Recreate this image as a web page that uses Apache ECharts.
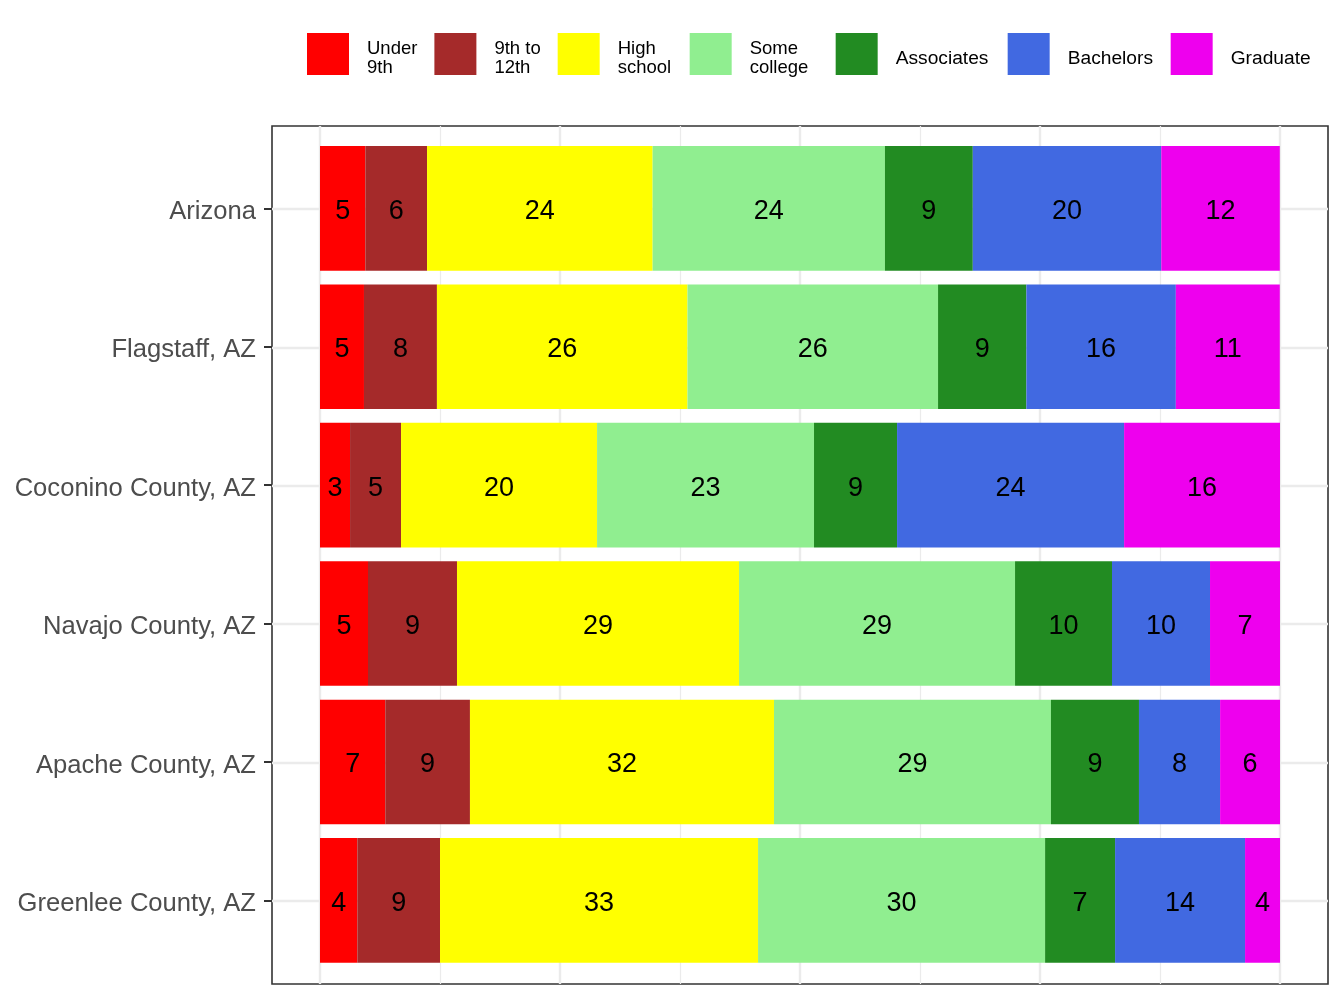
<!DOCTYPE html>
<html>
<head>
<meta charset="utf-8">
<script src="https://cdn.jsdelivr.net/npm/echarts@6/dist/echarts.min.js"></script>
<style>
html,body{margin:0;padding:0;background:#fff;}
#chart{width:1344px;height:1008px;}
</style>
</head>
<body>
<div id="chart"></div>
<script>
const categories = ['Arizona', 'Flagstaff, AZ', 'Coconino County, AZ', 'Navajo County, AZ', 'Apache County, AZ', 'Greenlee County, AZ'];
const seriesNames = ['Under 9th', '9th to 12th', 'High school', 'Some college', 'Associates', 'Bachelors', 'Graduate'];
const legendLabels = ['Under\n9th', '9th to\n12th', 'High\nschool', 'Some\ncollege', 'Associates', 'Bachelors', 'Graduate'];
const under9th    = [4.72, 4.58, 3.13, 5.00, 6.80, 3.89];
const grade9to12  = [6.43, 7.60, 5.31, 9.27, 8.82, 8.61];
const highSchool  = [23.50, 26.10, 20.42, 29.38, 31.67, 33.13];
const someCollege = [24.20, 26.10, 22.60, 28.75, 28.85, 29.90];
const associates  = [9.15, 9.20, 8.65, 10.10, 9.17, 7.29];
const bachelors   = [19.63, 15.57, 23.65, 10.21, 8.45, 13.54];
const graduate    = [12.35, 10.83, 16.25, 7.29, 6.24, 3.65];
const xMajorTicks = [0, 25, 50, 75, 100];
const xMinorTicks = [12.5, 37.5, 62.5, 87.5];
const colors = ['#FF0000', '#A52A2A', '#FFFF00', '#90EE90', '#228B22', '#4169E1', '#EE00EE'];

const values = [under9th, grade9to12, highSchool, someCollege, associates, bachelors, graduate];
const FONT = 'Liberation Sans, Arial, Helvetica, sans-serif';
// legend text box widths (layout only)
const legendTextWidths = [50, 46, 55, 69, 95, 86, 80];

const chart = echarts.init(document.getElementById('chart'), null, {renderer: 'canvas'});

const gridMarks = [];
xMajorTicks.forEach(v => gridMarks.push({xAxis: v, lineStyle: {color: '#ebebeb', width: 2.4, type: 'solid'}}));
xMinorTicks.forEach(v => gridMarks.push({xAxis: v, lineStyle: {color: '#ebebeb', width: 1.2, type: 'solid'}}));
categories.forEach((c, i) => gridMarks.push({yAxis: i + 1, lineStyle: {color: '#ebebeb', width: 2.4, type: 'solid'}}));

const barSeries = values.map((arr, k) => ({
  name: seriesNames[k],
  type: 'bar',
  stack: 'total',
  xAxisIndex: 1,
  yAxisIndex: 1,
  barCategoryGap: '10%',
  itemStyle: {color: colors[k]},
  label: {
    show: true,
    position: 'inside',
    color: '#000',
    fontSize: 27,
    fontFamily: FONT,
    offset: [0, 3],
    formatter: p => String(Math.round(p.value))
  },
  data: arr,
  z: 3
}));

// rich styles for legend labels (first line sits lower in a taller line box)
const legendRich = {};
legendLabels.forEach((lab, i) => {
  const twoLines = lab.indexOf('\n') >= 0;
  legendRich['f' + i] = {fontSize: twoLines ? 18.5 : 19.2, color: '#000', fontFamily: FONT, lineHeight: 28, verticalAlign: 'bottom', width: legendTextWidths[i]};
  legendRich['s' + i] = {fontSize: 18.5, color: '#000', fontFamily: FONT, lineHeight: 20, width: legendTextWidths[i]};
});
function legendFormatter(name) {
  const i = seriesNames.indexOf(name);
  const parts = legendLabels[i].split('\n');
  if (parts.length > 1) return '{f' + i + '|' + parts[0] + '}\n{s' + i + '|' + parts[1] + '}';
  return '{f' + i + '|' + parts[0] + '}';
}

const option = {
  animation: false,
  textStyle: {fontFamily: FONT},
  legend: {
    show: true,
    left: 307,
    top: 33,
    padding: 0,
    itemWidth: 42,
    itemHeight: 42,
    itemGap: 17,
    icon: 'rect',
    data: seriesNames,
    formatter: legendFormatter,
    textStyle: {
      fontSize: 18.5, color: '#000', fontFamily: FONT, padding: [0, 0, 0, 13],
      rich: legendRich
    }
  },
  grid: [
    {left: 272, top: 126, width: 1056, height: 858, show: true, borderColor: '#333333', borderWidth: 1.6, backgroundColor: '#ffffff', containLabel: false},
    {left: 320, top: 139.15, width: 960, height: 830.4, containLabel: false}
  ],
  xAxis: [
    {gridIndex: 0, type: 'value', min: -5, max: 105, show: false},
    {gridIndex: 1, type: 'value', min: 0, max: 100, show: false}
  ],
  yAxis: [
    {gridIndex: 0, type: 'value', min: 0.4, max: 6.6, inverse: true, show: false},
    {
      gridIndex: 1, type: 'category', data: categories, inverse: true, offset: 48,
      axisLine: {show: false, onZero: false},
      axisTick: {show: true, alignWithLabel: true, length: 8, lineStyle: {color: '#333333', width: 2}},
      axisLabel: {
        color: '#4d4d4d', fontSize: 25.6, margin: 16, fontFamily: FONT,
        formatter: v => '{l|' + v + '}',
        rich: {l: {color: '#4d4d4d', fontSize: 25.6, fontFamily: FONT, padding: [7, 0, 0, 0]}}
      },
      splitLine: {show: false}
    }
  ],
  series: [
    {
      name: 'gridlines',
      type: 'line',
      xAxisIndex: 0,
      yAxisIndex: 0,
      data: [],
      silent: true,
      z: 1,
      markLine: {
        silent: true,
        z: 1,
        symbol: ['none', 'none'],
        label: {show: false},
        animation: false,
        data: gridMarks
      }
    }
  ].concat(barSeries)
};
chart.setOption(option);
</script>
</body>
</html>
